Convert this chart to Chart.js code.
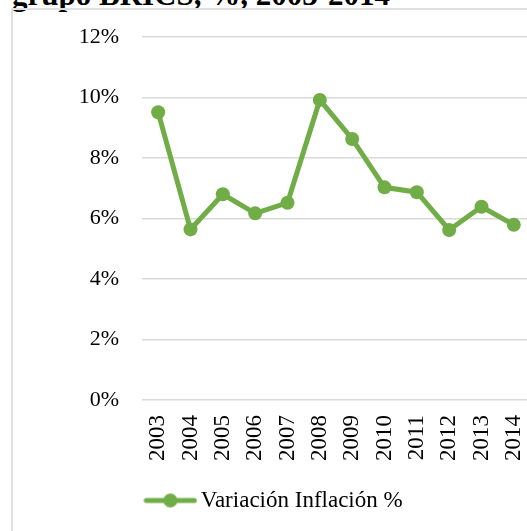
<!DOCTYPE html>
<html lang="es">
<head>
<meta charset="utf-8">
<title>Variación Inflación % — grupo BRICS</title>
<script src="https://cdn.jsdelivr.net/npm/chart.js@4/dist/chart.umd.min.js"></script>
<style>
  html, body { margin: 0; padding: 0; background: #fff; overflow: hidden; }
  body { width: 527px; height: 531px; position: relative; }
  #title {
    position: absolute; left: 12px; top: -21px;
    font: bold 31px/31px 'Liberation Serif', 'Times New Roman', serif;
    color: #000; white-space: nowrap;
  }
  #frame {
    position: absolute; left: 11px; top: 8px; width: 560px; height: 560px;
    border: 2px solid #e0e0e0; box-sizing: border-box;
  }
  #wrap { position: absolute; left: 0; top: 0; width: 537px; height: 531px; }
</style>
</head>
<body>
<div id="title">grupo BRICS, %, 2003-2014</div>
<div id="frame"></div>
<div id="wrap"><canvas id="inflChart"></canvas></div>

<script>
/* datos */
var years = ['2003', '2004', '2005', '2006', '2007', '2008', '2009', '2010', '2011', '2012', '2013', '2014'];
var inflacion = [9.51, 5.64, 6.80, 6.17, 6.52, 9.92, 8.63, 7.03, 6.87, 5.62, 6.39, 5.79];
var yTicks = [0, 2, 4, 6, 8, 10, 12];
var serieNombre = 'Variación Inflación %';

var VERDE = '#70ad47';
var FUENTE = "'Liberation Serif', 'Times New Roman', serif";

document.addEventListener('DOMContentLoaded', function () {
  initInflChart();
});

/* marcador de leyenda: línea con punto */
function legendMarker() {
  var c = document.createElement('canvas');
  c.width = 54;
  c.height = 16;
  var g = c.getContext('2d');
  g.strokeStyle = VERDE;
  g.lineWidth = 5;
  g.lineCap = 'round';
  g.beginPath();
  g.moveTo(3, 8);
  g.lineTo(51, 8);
  g.stroke();
  g.fillStyle = VERDE;
  g.beginPath();
  g.arc(27, 8, 7, 0, Math.PI * 2);
  g.fill();
  return c;
}

function initInflChart() {
  var ctx = document.getElementById('inflChart');
  if (!ctx || typeof Chart === 'undefined') return;
  var marker = legendMarker();

  new Chart(ctx, {
    type: 'line',
    data: {
      labels: years,
      datasets: [{
        label: serieNombre,
        data: inflacion,
        borderColor: VERDE,
        backgroundColor: VERDE,
        borderWidth: 5,
        pointRadius: 7,
        pointHoverRadius: 7,
        pointBackgroundColor: VERDE,
        pointBorderWidth: 0,
        pointStyle: 'circle',
        tension: 0
      }]
    },
    options: {
      responsive: true,
      maintainAspectRatio: false,
      animation: false,
      layout: { padding: { top: 37, left: 17, right: 0, bottom: 9 } },
      plugins: {
        legend: {
          display: true,
          position: 'bottom',
          labels: {
            usePointStyle: true,
            pointStyleWidth: 38,
            padding: 10,
            color: '#000',
            font: { family: FUENTE, size: 23 },
            generateLabels: function (chart) {
              return [{
                text: serieNombre,
                pointStyle: marker,
                fillStyle: VERDE,
                strokeStyle: VERDE,
                lineWidth: 0,
                datasetIndex: 0,
                hidden: false
              }];
            }
          }
        },
        tooltip: { enabled: false }
      },
      scales: {
        x: {
          offset: true,
          grid: { display: false, drawTicks: false },
          border: { display: false },
          ticks: {
            minRotation: 90,
            maxRotation: 90,
            autoSkip: false,
            padding: 15,
            color: '#000',
            font: { family: FUENTE, size: 23 }
          },
          afterFit: function (scale) {
            scale.height = 79;
            scale.paddingLeft = 0;
            scale.paddingRight = 0;
          }
        },
        y: {
          min: yTicks[0],
          max: yTicks[yTicks.length - 1],
          afterBuildTicks: function (scale) {
            scale.ticks = yTicks.map(function (v) { return { value: v }; });
          },
          grid: { color: '#d9d9d9', lineWidth: 1.5, drawTicks: false },
          border: { display: false },
          ticks: {
            padding: 23,
            color: '#000',
            font: { family: FUENTE, size: 22 },
            callback: function (val) { return val + '%'; }
          },
          afterFit: function (scale) { scale.width = 125; }
        }
      }
    }
  });
}
</script>
</body>
</html>
